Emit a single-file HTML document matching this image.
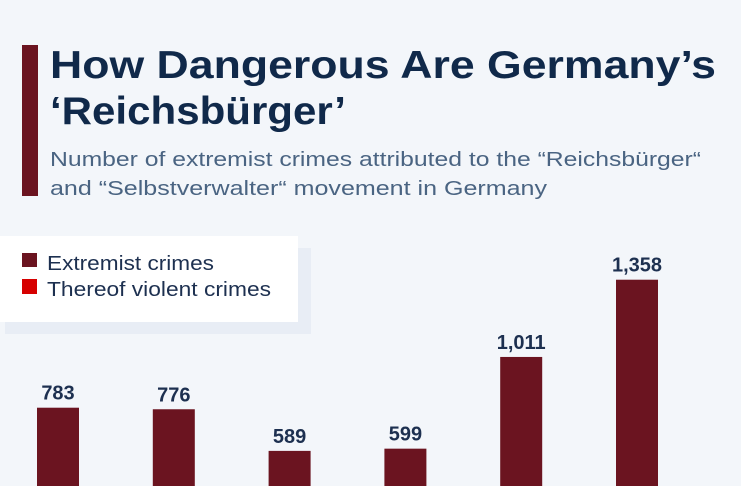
<!DOCTYPE html>
<html><head><meta charset="utf-8"><style>
html,body{margin:0;padding:0;background:#f3f6fa;width:741px;height:486px;overflow:hidden;}
svg{display:block;font-family:"Liberation Sans",sans-serif;overflow:hidden;}
</style></head><body>
<svg width="741" height="486" viewBox="0 0 741 486">
<rect x="0" y="0" width="741" height="486" fill="#f3f6fa"/>
<rect x="22" y="45" width="16" height="151" fill="#6b1420"/>
<text x="50" y="78" font-size="39" font-weight="bold" fill="#10294a" textLength="666" lengthAdjust="spacingAndGlyphs">How Dangerous Are Germany’s</text>
<text x="50" y="124" font-size="39" font-weight="bold" fill="#10294a" textLength="296" lengthAdjust="spacingAndGlyphs">‘Reichsbürger’</text>
<text x="50" y="166" font-size="20" fill="#4a6482" textLength="651" lengthAdjust="spacingAndGlyphs">Number of extremist crimes attributed to the “Reichsbürger“</text>
<text x="50" y="195" font-size="20" fill="#4a6482" textLength="497" lengthAdjust="spacingAndGlyphs">and “Selbstverwalter“ movement in Germany</text>
<rect x="5" y="248" width="306" height="86" fill="#e8edf5"/>
<rect x="0" y="236" width="298" height="86" fill="#ffffff"/>
<g>
<rect x="22" y="253" width="15" height="14" fill="#6b1420"/>
<text x="47" y="270" font-size="20" fill="#1d3050" textLength="167" lengthAdjust="spacingAndGlyphs">Extremist crimes</text>
</g>
<g>
<rect x="22" y="279" width="15" height="15" fill="#d60000"/>
<text x="47" y="296" font-size="20" fill="#1d3050" textLength="224" lengthAdjust="spacingAndGlyphs">Thereof violent crimes</text>
</g>
<g id="bars"></g>
</svg>
<script>
const categories = ["y1","y2","y3","y4","y5","y6"];
const extremistValues = [783, 776, 589, 599, 1011, 1358];
const valueLabels = ["783","776","589","599","1,011","1,358"];
const baselineY = 582, pxPerUnit = 0.2226, frameBottom = 486;
function yScale(v){ return baselineY - v * pxPerUnit; }
function xScale(i){ return 37 + i * 115.8; }
const ns = "http://www.w3.org/2000/svg";
const g = document.getElementById("bars");
extremistValues.forEach((v,i)=>{
  const r = document.createElementNS(ns,"rect");
  
  
  r.setAttribute("x", xScale(i));
  r.setAttribute("y", yScale(v));
  r.setAttribute("width", 42);
  r.setAttribute("height", Math.max(0, Math.min(baselineY, frameBottom) - yScale(v)));
  r.setAttribute("fill", "#6b1420");
  g.appendChild(r);
  const t = document.createElementNS(ns,"text");
  
  
  t.setAttribute("x", xScale(i) + 21);
  t.setAttribute("y", yScale(v) - 8);
  t.setAttribute("text-anchor", "middle");
  t.setAttribute("font-size", "20");
  t.setAttribute("font-weight", "bold");
  t.setAttribute("fill", "#1d3050");
  t.textContent = valueLabels[i];
  g.appendChild(t);
});
</script>
</body></html>
